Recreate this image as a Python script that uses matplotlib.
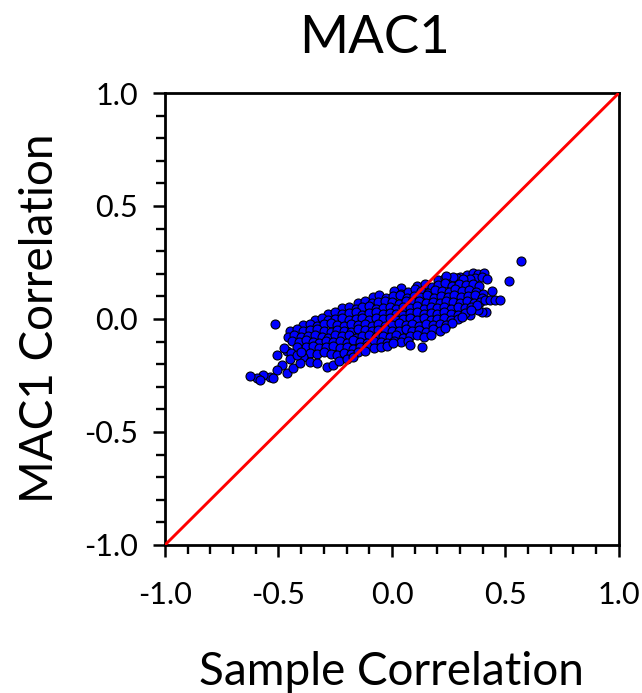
import matplotlib
matplotlib.use("Agg")
import matplotlib.pyplot as plt

plt.rcParams['font.family'] = ['Lato', 'DejaVu Sans']

title = "MAC1"
x_label = "Sample Correlation"
y_label = "MAC1 Correlation"
tick_values = [-1.0, -0.5, 0.0, 0.5, 1.0]
tick_labels = ["-1.0", "-0.5", "0.0", "0.5", "1.0"]

# Correlation of each probe pair in the sample (x) and in MAC1 (y)
sample_corr = [
    # upper right cluster
    0.300, 0.330, 0.355, 0.380, 0.405, 0.365, 0.395, 0.420, 0.345,
    0.205, 0.232, 0.258, 0.285, 0.312, 0.270, 0.240,
    0.040, 0.112, 0.145, 0.175, 0.205, 0.235, 0.265, 0.295, 0.325, 0.355, 0.385,
    0.010, 0.040, 0.070, 0.100, 0.130, 0.160, 0.190, 0.220, 0.250, 0.280, 0.310, 0.340, 0.370, 0.400,
    -0.085, -0.055, -0.025, 0.005, 0.035, 0.065, 0.095, 0.125, 0.155, 0.185, 0.215, 0.245, 0.275,
    0.305, 0.335, 0.365, 0.395,
    -0.150, -0.120, -0.090, -0.060, -0.030, 0.000, 0.030, 0.060, 0.090, 0.120, 0.150, 0.180, 0.210,
    0.240, 0.270, 0.300, 0.330, 0.360, 0.390,
    # right tail
    0.410, 0.432, 0.454, 0.476, 0.439, 0.517, 0.567, 0.414, 0.395, 0.380, 0.344,
    -0.220, -0.190, -0.160, -0.130, -0.100, -0.070, -0.040, -0.010, 0.020, 0.050, 0.080, 0.110,
    0.140, 0.170, 0.200, 0.230, 0.260, 0.290, 0.320, 0.350, 0.375,
    -0.280, -0.250, -0.220, -0.190, -0.160, -0.130, -0.100, -0.070, -0.040, -0.010, 0.020, 0.050,
    0.080, 0.110, 0.140, 0.170, 0.200, 0.230, 0.260, 0.290, 0.320, 0.350,
    -0.340, -0.310, -0.280, -0.250, -0.220, -0.190, -0.160, -0.130, -0.100, -0.070, -0.040, -0.010,
    0.020, 0.050, 0.080, 0.110, 0.140, 0.170, 0.200, 0.230, 0.260, 0.290, 0.310,
    -0.390, -0.360, -0.330, -0.300, -0.270, -0.240, -0.210, -0.180, -0.150, -0.120, -0.090, -0.060,
    -0.030, 0.000, 0.030, 0.060, 0.090, 0.120, 0.150, 0.180, 0.210, 0.240, 0.265,
    -0.450, -0.420, -0.390, -0.360, -0.330, -0.300, -0.270, -0.240, -0.210, -0.180, -0.150, -0.120,
    -0.090, -0.060, -0.030, 0.000, 0.030, 0.060, 0.090, 0.120, 0.150, 0.180, 0.210, 0.235,
    -0.460, -0.430, -0.400, -0.370, -0.340, -0.310, -0.280, -0.250, -0.220, -0.190, -0.160, -0.130,
    -0.100, -0.070, -0.040, -0.010, 0.020, 0.050, 0.080, 0.110, 0.140, 0.170,
    -0.440, -0.410, -0.380, -0.350, -0.320, -0.290, -0.260, -0.230, -0.200, -0.170, -0.140, -0.110,
    -0.080, -0.050, -0.020, 0.010, 0.040, 0.070,
    -0.380, -0.350, -0.320, -0.290, -0.260, -0.230, -0.200, -0.170, -0.140, -0.110, -0.080, -0.050,
    -0.020, 0.006, 0.079,
    -0.360, -0.330, -0.300, -0.270, -0.240, -0.210, -0.180, -0.150, -0.120, 0.134,
    -0.391, -0.361, -0.332, -0.288, -0.259, -0.232, -0.200, -0.170,
    # lower left tail
    -0.508, -0.464, -0.420, -0.486, -0.508, -0.464, -0.435, -0.537, -0.567, -0.596, -0.626, -0.581,
    -0.523, -0.405, -0.515,
    -0.475, -0.445, -0.450, -0.420, -0.400,
]

mac1_corr = [
    0.188, 0.196, 0.203, 0.197, 0.205, 0.182, 0.186, 0.178, 0.176,
    0.172, 0.180, 0.170, 0.183, 0.176, 0.188, 0.190,
    0.138, 0.148, 0.155, 0.143, 0.152, 0.158, 0.146, 0.153, 0.149, 0.157, 0.145,
    0.122, 0.110, 0.119, 0.131, 0.124, 0.117, 0.129, 0.126, 0.120, 0.132, 0.123, 0.127, 0.118, 0.112,
    0.097, 0.104, 0.095, 0.102, 0.108, 0.094, 0.101, 0.099, 0.106, 0.093, 0.103, 0.098, 0.105,
    0.096, 0.101, 0.107, 0.094,
    0.072, 0.079, 0.070, 0.077, 0.081, 0.073, 0.068, 0.078, 0.074, 0.080, 0.071, 0.076, 0.069,
    0.079, 0.075, 0.072, 0.080, 0.070, 0.077,
    0.084, 0.086, 0.082, 0.085, 0.125, 0.168, 0.257, 0.032, 0.030, 0.040, 0.018,
    0.047, 0.054, 0.045, 0.052, 0.057, 0.044, 0.050, 0.055, 0.046, 0.053, 0.048, 0.056,
    0.043, 0.051, 0.049, 0.054, 0.046, 0.052, 0.047, 0.055, 0.060,
    0.022, 0.029, 0.020, 0.027, 0.031, 0.019, 0.025, 0.030, 0.021, 0.028, 0.024, 0.018,
    0.026, 0.032, 0.023, 0.027, 0.020, 0.029, 0.024, 0.017, 0.026, 0.040,
    -0.003, 0.004, -0.005, 0.002, 0.006, -0.006, 0.001, 0.005, -0.004, 0.003, -0.002, 0.006,
    -0.005, 0.002, 0.004, -0.003, 0.005, -0.006, 0.001, 0.003, -0.004, 0.002, 0.010,
    -0.028, -0.021, -0.030, -0.024, -0.019, -0.027, -0.031, -0.022, -0.026, -0.020, -0.029, -0.023,
    -0.032, -0.025, -0.019, -0.028, -0.022, -0.030, -0.024, -0.027, -0.021, -0.026, -0.018,
    -0.052, -0.046, -0.055, -0.049, -0.044, -0.053, -0.057, -0.047, -0.051, -0.056, -0.045, -0.050,
    -0.054, -0.048, -0.043, -0.052, -0.055, -0.046, -0.051, -0.049, -0.057, -0.044, -0.053, -0.040,
    -0.078, -0.072, -0.081, -0.075, -0.069, -0.079, -0.083, -0.073, -0.077, -0.070, -0.082, -0.076,
    -0.071, -0.080, -0.074, -0.078, -0.069, -0.083, -0.075, -0.072, -0.079, -0.073,
    -0.098, -0.104, -0.095, -0.101, -0.107, -0.097, -0.103, -0.099, -0.106, -0.094, -0.102, -0.108,
    -0.096, -0.100, -0.105, -0.097, -0.103, -0.099,
    -0.126, -0.121, -0.129, -0.124, -0.119, -0.128, -0.123, -0.131, -0.125, -0.120, -0.127, -0.122,
    -0.118, -0.108, -0.115,
    -0.150, -0.156, -0.147, -0.153, -0.158, -0.149, -0.155, -0.146, -0.140, -0.122,
    -0.167, -0.189, -0.196, -0.211, -0.204, -0.185, -0.175, -0.168,
    -0.159, -0.140, -0.122, -0.204, -0.226, -0.240, -0.218, -0.255, -0.248, -0.260, -0.252, -0.270,
    -0.262, -0.196, -0.024,
    -0.130, -0.150, -0.175, -0.160, -0.145,
]

# Identity reference line
identity = [-1.0, 1.0]

fig = plt.figure(figsize=(6.42, 6.93), dpi=100)
ax = fig.add_axes([0.257, 0.2136, 0.707, 0.6522])

ax.scatter(sample_corr, mac1_corr, s=42, c="#0000ff", edgecolors="black",
           linewidths=0.8, zorder=2)
ax.plot(identity, identity, color="#ff0000", linewidth=2.1, zorder=3,
        solid_capstyle="butt")

ax.set_xlim(-1, 1)
ax.set_ylim(-1, 1)
ax.set_xticks(tick_values)
ax.set_xticklabels(tick_labels)
ax.set_yticks(tick_values)
ax.set_yticklabels(tick_labels)
ax.set_xticks([v / 10 for v in range(-10, 11)], minor=True)
ax.set_yticks([v / 10 for v in range(-10, 11)], minor=True)

for side in ax.spines.values():
    side.set_linewidth(2.0)
    side.set_color("black")

ax.tick_params(which="major", direction="out", length=8.6, width=1.8,
               labelsize=22, colors="black")
ax.tick_params(which="minor", direction="out", length=6.3, width=1.7)
ax.tick_params(axis="x", which="major", pad=17)
ax.tick_params(axis="y", which="major", pad=11)

fig.text(375 / 642, 1 - 53 / 693, title, ha="center", va="baseline", fontsize=38)
fig.text(391 / 642, 1 - 685 / 693, x_label, ha="center", va="baseline", fontsize=33)
fig.text(53 / 642, 1 - 318 / 693, y_label, ha="center", va="baseline",
         fontsize=33, rotation=90, rotation_mode="anchor")

fig.savefig("out.png", dpi=100)
